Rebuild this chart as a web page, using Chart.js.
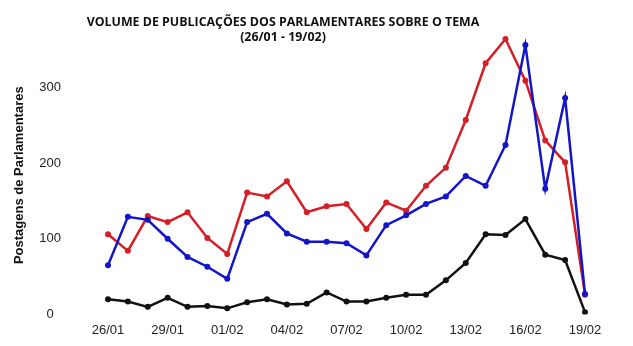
<!DOCTYPE html>
<html>
<head>
<meta charset="utf-8">
<script src="https://cdn.jsdelivr.net/npm/chart.js@4/dist/chart.umd.min.js"></script>
<style>
  body { margin: 0; background: #fff; }
  #wrap { position: relative; width: 633px; height: 346px; }
  #title {
    position: absolute; left: 0; width: 566px; top: 15px;
    text-align: center; font-family: "Open Sans", sans-serif; font-weight: 700;
    font-size: 12.4px; line-height: 14.5px; color: #111;
  }
</style>
</head>
<body>
<div id="wrap">
  <canvas id="myChart" width="633" height="346"></canvas>
  <div id="title">VOLUME DE PUBLICAÇÕES DOS PARLAMENTARES SOBRE O TEMA<br>(26/01 - 19/02)</div>
</div>
<script>
// *******************  data

let dates = ['26/01', '27/01', '28/01', '29/01', '30/01', '31/01', '01/02', '02/02', '03/02',
  '04/02', '05/02', '06/02', '07/02', '08/02', '09/02', '10/02', '11/02', '12/02', '13/02',
  '14/02', '15/02', '16/02', '17/02', '18/02', '19/02'];

let redValues = [106, 84, 130, 122, 135, 101, 80, 161, 156, 176, 135, 143, 146, 113, 148,
  137, 170, 194, 257, 332, 364, 309, 230, 201, 26];
let blueValues = [65, 129, 125, 100, 76, 63, 47, 122, 133, 107, 96, 96, 94, 78, 118,
  131, 146, 156, 183, 170, 224, 356, 166, 286, 27];
let blackValues = [20, 17, 10, 22, 10, 11, 8, 16, 20, 13, 14, 29, 17, 17, 22,
  26, 26, 45, 68, 106, 105, 126, 79, 72, 3];

let yTicks = [0, 100, 200, 300];

// *******************  chart

let ctx = document.getElementById('myChart');

function series(values, color){
  return {
    data: values,
    borderColor: color,
    backgroundColor: color,
    borderWidth: 2.5,
    pointRadius: 3,
    pointBorderWidth: 0,
    tension: 0
  };
}

new Chart(ctx, {
  type: 'line',
  data: {
    labels: dates,
    datasets: [
      series(blackValues, '#111111'),
      series(blueValues, '#1414c8'),
      series(redValues, '#d41f27')
    ]
  },
  options: {
    responsive: false,
    animation: false,
    layout: { padding: { top: 36, right: 48, bottom: 0, left: 0 } },
    plugins: { legend: { display: false }, tooltip: { enabled: false } },
    scales: {
      x: {
        offset: false,
        grid: { display: false, drawTicks: false },
        border: { display: false },
        ticks: {
          autoSkip: false,
          maxRotation: 0,
          padding: 8,
          color: '#222',
          font: { family: 'Liberation Sans', size: 13 },
          callback: function(v, i){ return i % 3 === 0 ? dates[i] : ''; }
        }
      },
      y: {
        min: 0,
        max: 368,
        grid: { display: false, drawTicks: false },
        border: { display: false },
        afterBuildTicks: function(scale){
          scale.ticks = yTicks.map(v => ({ value: v }));
        },
        afterFit: function(scale){
          // big tick padding is only meant to push labels right, not to pad top/bottom
          scale.width = 108;
          scale.paddingTop = 0;
          scale.paddingBottom = 0;
        },
        ticks: {
          crossAlign: 'center',
          padding: 47,
          color: '#222',
          font: { family: 'Liberation Sans', size: 13 }
        },
        title: {
          display: true,
          text: 'Postagens de Parlamentares',
          color: '#111',
          padding: { top: 12, bottom: 4 },
          font: { family: 'Liberation Sans', size: 13, weight: 'bold' }
        }
      }
    }
  }
});
</script>
</body>
</html>
